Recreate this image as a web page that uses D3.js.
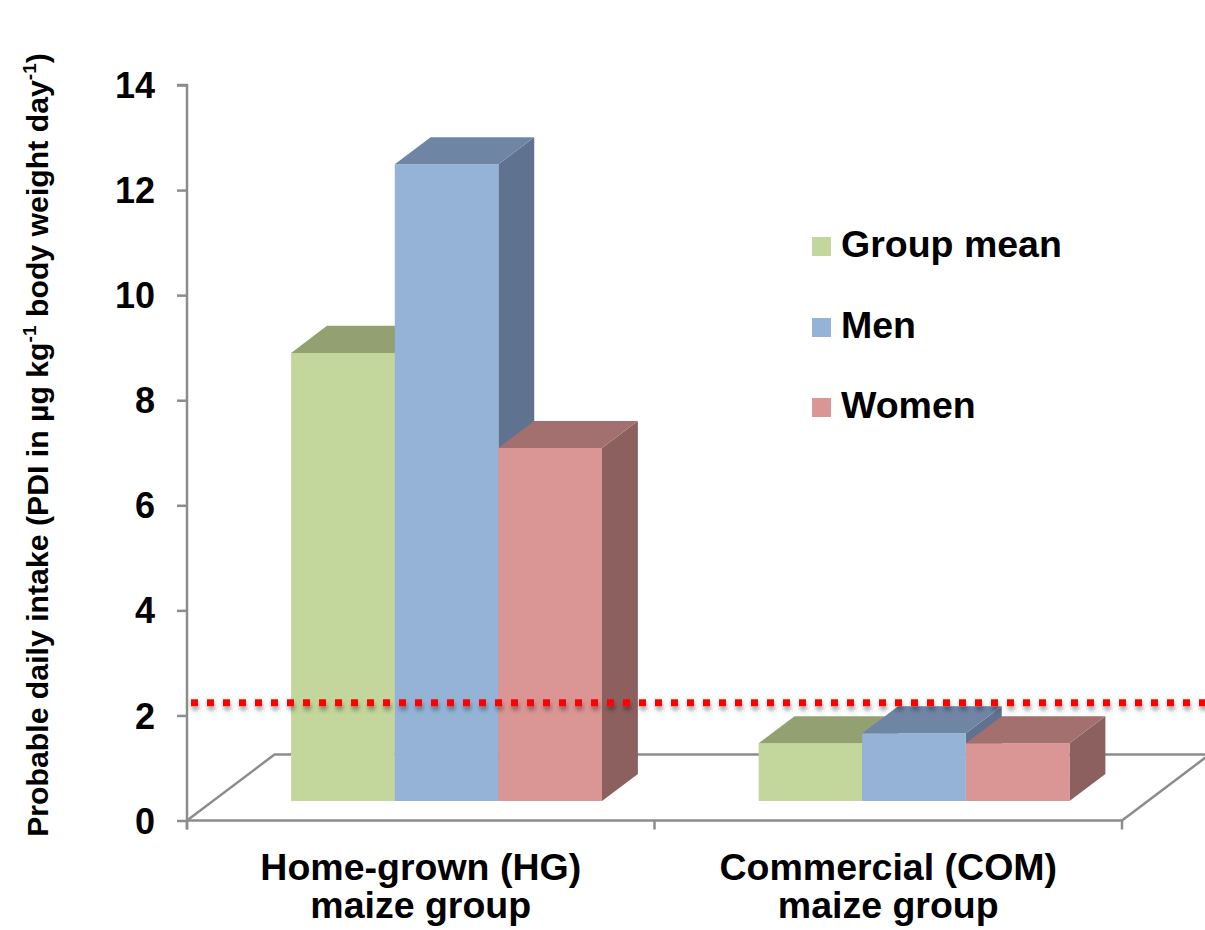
<!DOCTYPE html>
<html>
<head>
<meta charset="utf-8">
<script src="https://cdn.jsdelivr.net/npm/d3@7"></script>
<style>
  html, body { margin: 0; padding: 0; background: #fff; }
  svg { display: block; font-family: "Liberation Sans", Arial, sans-serif; }
</style>
</head>
<body>
<svg id="chart" width="1205" height="930"></svg>
<script>
// ---- data ----
const categories = ["HG", "COM"];
const categoryLine1 = ["Home-grown (HG)", "Commercial (COM)"];
const categoryLine2 = ["maize group", "maize group"];
const series = ["Group mean", "Men", "Women"];
const groupMean = [8.53, 1.10];
const men = [12.12, 1.29];
const women = [6.72, 1.10];
const yTicks = [0, 2, 4, 6, 8, 10, 12, 14];
const thresholdValue = [2.24];

const values = [groupMean, men, women];
const frontColors = ["#C3D69B", "#95B3D7", "#D99694"];
const topColors   = ["#92A072", "#6F85A4", "#A3706F"];
const sideColors  = ["#7D8A62", "#5F7290", "#8C605E"];

const svg = d3.select("#chart");
const grey = "#8C8C8C";

// front-plane scales
const x = d3.scaleBand().domain(categories).range([187, 1122]).padding(0);
const y = d3.scaleLinear().domain([0, 14]).range([820.5, 85]);
const groupFrac = 0.665;
const inner = d3.scaleBand().domain(series).range([0, x.bandwidth() * groupFrac]).padding(0);
const groupOffset = (x.bandwidth() - x.bandwidth() * groupFrac) / 2;

// oblique depth projection
const depthDX = 87.5, depthDY = -66;
const f0 = 0.295, f1 = 0.705;
const proj = (px, py, f) => [px + depthDX * f, py + depthDY * f];

// defs: shadow for dotted line
const defs = svg.append("defs");
const filt = defs.append("filter").attr("id", "shadow")
  .attr("filterUnits", "userSpaceOnUse").attr("x", 0).attr("y", 0).attr("width", 1205).attr("height", 930);
filt.append("feDropShadow").attr("dx", 1).attr("dy", 4).attr("stdDeviation", 2)
  .attr("flood-color", "#000").attr("flood-opacity", 0.35);

// ---- floor ----
const fl = x.range()[0], fr = x.range()[1], fy = y(0);
const line = d3.line();
svg.append("path")
  .attr("d", line([proj(fl, fy, 0), proj(fl, fy, 1), proj(fr, fy, 1), proj(fr, fy, 0)]))
  .attr("fill", "none").attr("stroke", grey).attr("stroke-width", 2.5).attr("stroke-linejoin", "miter");

// ---- y axis ----
const yAxis = d3.axisLeft(y).tickValues(yTicks).tickSize(10).tickPadding(22).tickFormat(d3.format("d"));
const gy = svg.append("g").attr("transform", `translate(${fl},0)`).call(yAxis);
gy.select(".domain").attr("stroke", grey).attr("stroke-width", 2.5)
  .attr("d", `M-10,${y(14)}H0V${y(0) + 9}`);
gy.selectAll(".tick line").attr("stroke", grey).attr("stroke-width", 2.5);
gy.selectAll(".tick text").attr("fill", "#000").attr("font-size", 36).attr("font-weight", "bold")
  .attr("font-family", "'Liberation Sans', Arial, sans-serif").attr("dy", "0.35em");

// ---- x axis (front floor edge) ----
const xAxis = d3.axisBottom(x).tickSize(0).tickFormat("");
const gx = svg.append("g").attr("transform", `translate(0,${fy})`).call(xAxis);
gx.select(".domain").attr("stroke", grey).attr("stroke-width", 2.5).attr("d", `M${fl},0H${fr}`);
gx.selectAll(".tick").remove();
const boundaries = [x.range()[0], x(categories[1]), x.range()[1]];
gx.selectAll("line.sep").data(boundaries).join("line").attr("class", "sep")
  .attr("x1", d => d).attr("x2", d => d).attr("y1", 0).attr("y2", 9)
  .attr("stroke", grey).attr("stroke-width", 2.5);

// x labels
const xl = svg.append("g").attr("font-size", 37.5).attr("font-weight", "bold").attr("text-anchor", "middle").attr("fill", "#000");
categories.forEach((c, i) => {
  const cx = x(c) + x.bandwidth() / 2;
  xl.append("text").attr("x", cx).attr("y", 880).text(categoryLine1[i]);
  xl.append("text").attr("x", cx).attr("y", 918).text(categoryLine2[i]);
});

// ---- bars ----
const bars = svg.append("g");
categories.forEach((c, ci) => {
  series.forEach((s, si) => {
    const v = values[si][ci];
    const xL = x(c) + groupOffset + inner(s);
    const xR = xL + inner.bandwidth();
    const yT = y(v), yB = y(0);
    const fTL = proj(xL, yT, f0), fTR = proj(xR, yT, f0), fBR = proj(xR, yB, f0), fBL = proj(xL, yB, f0);
    const bTL = proj(xL, yT, f1), bTR = proj(xR, yT, f1), bBR = proj(xR, yB, f1);
    bars.append("path").attr("d", line([fTR, bTR, bBR, fBR]) + "Z").attr("fill", sideColors[si]);
    bars.append("path").attr("d", line([fTL, fTR, fBR, fBL]) + "Z").attr("fill", frontColors[si]);
    bars.append("path").attr("d", line([fTL, bTL, bTR, fTR]) + "Z").attr("fill", topColors[si]);
  });
});

// ---- threshold dotted line ----
svg.append("g").attr("filter", "url(#shadow)").selectAll("line").data(thresholdValue).join("line")
  .attr("x1", 191).attr("x2", 1210)
  .attr("y1", d => y(d)).attr("y2", d => y(d))
  .attr("stroke", "#FF0000").attr("stroke-width", 7).attr("stroke-dasharray", "7 9");

// ---- legend ----
const legend = svg.append("g");
const legendTop = [237, 318, 398];
series.forEach((s, i) => {
  legend.append("rect").attr("x", 812).attr("y", legendTop[i]).attr("width", 19).attr("height", 19).attr("fill", frontColors[i]);
  legend.append("text").attr("x", 841).attr("y", legendTop[i] + 20)
    .attr("font-size", 37.5).attr("font-weight", "bold").attr("fill", "#000").text(s);
});

// ---- y label ----
const yl = svg.append("g");
const ylt = yl.append("text").attr("text-anchor", "middle").attr("font-size", 30).attr("font-weight", "bold").attr("fill", "#000");
ylt.append("tspan").text("Probable daily intake (PDI in µg kg");
ylt.append("tspan").attr("font-size", 19).attr("dy", -12).text("-1");
ylt.append("tspan").attr("dy", 12).text(" body weight day");
ylt.append("tspan").attr("font-size", 19).attr("dy", -12).text("-1");
ylt.append("tspan").attr("dy", 12).text(")");
const w = ylt.node().getBBox().width;
yl.attr("transform", `translate(48,445) rotate(-90) scale(${784 / w},1)`);
</script>
</body>
</html>
